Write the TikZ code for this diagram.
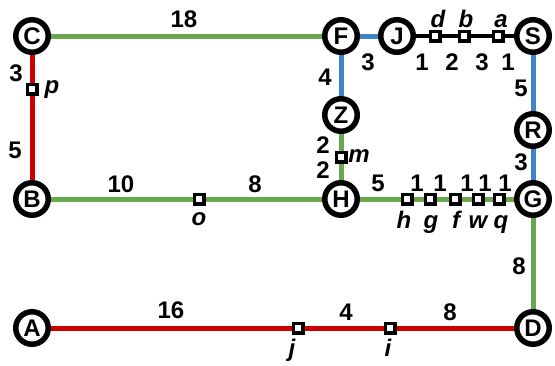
\documentclass[tikz,border=0pt]{standalone}
\usepackage{fontspec}
\setmainfont{Liberation Sans}
\usetikzlibrary{backgrounds}
\definecolor{tgreen}{HTML}{6AA84F}
\definecolor{tred}{HTML}{CC0000}
\definecolor{tblue}{HTML}{3D85C6}
\begin{document}
\begin{tikzpicture}[x=1pt,y=-1pt,
 station/.style={circle,draw=black,line width=5.5pt,fill=white,minimum size=32.5pt,inner sep=0pt,font=\fontsize{24}{24}\selectfont\bfseries},
 stopbox/.style={rectangle,draw=black,line width=3.5pt,fill=white,minimum size=9.5pt,inner sep=0pt},
 lbl/.style={inner sep=0pt,font=\fontsize{24}{24}\selectfont\bfseries},
 ilbl/.style={inner sep=0pt,anchor=base,font=\fontsize{24}{24}\selectfont\bfseries\itshape},
 track/.style={line width=5pt},
]
\useasboundingbox (0,0) rectangle (555,365);
% stations
\node[station] (C) at (32,36) {C};
\node[station] (F) at (341,36) {F};
\node[station] (J) at (397,36) {J};
\node[station] (S) at (533,36) {S};
\node[station] (Z) at (341,115) {Z};
\node[station] (R) at (533,130) {R};
\node[station] (B) at (32,199) {B};
\node[station] (H) at (341,199) {H};
\node[station] (G) at (533,199) {G};
\node[station] (A) at (32,328) {A};
\node[station] (D) at (533,328) {D};
% stops
\node[stopbox] (sp) at (32,89) {};
\node[stopbox] (so) at (199,199) {};
\node[stopbox] (sm) at (341,157) {};
\node[stopbox] (sd) at (435,36) {};
\node[stopbox] (sb) at (464,36) {};
\node[stopbox] (sa) at (498,36) {};
\node[stopbox] (sh) at (407,199) {};
\node[stopbox] (sg) at (430,199) {};
\node[stopbox] (sf) at (455,199) {};
\node[stopbox] (sw) at (478,199) {};
\node[stopbox] (sq) at (499,199) {};
\node[stopbox] (sj) at (298,328) {};
\node[stopbox] (si) at (390,328) {};
% tracks
\begin{scope}[on background layer]
\draw[track,tgreen] (C) -- (F);
\draw[track,tred] (C) -- (sp) -- (B);
\draw[track,tgreen] (B) -- (so) -- (H);
\draw[track,tblue] (F) -- (J);
\draw[track,black,line width=4.5pt] (J) -- (sd) -- (sb) -- (sa) -- (S);
\draw[track,tblue] (F) -- (Z);
\draw[track,tgreen] (Z) -- (sm) -- (H);
\draw[track,tgreen] (H) -- (sh) -- (sg) -- (sf) -- (sw) -- (sq) -- (G);
\draw[track,tblue] (S) -- (R);
\draw[track,tblue] (R) -- (G);
\draw[track,tgreen] (G) -- (D);
\draw[track,tred] (A) -- (sj) -- (si) -- (D);
\end{scope}
% weights
\node[lbl] (w1) at (184,19) {18};
\node[lbl] (w2) at (16,73) {3};
\node[lbl] (w3) at (15,150) {5};
\node[lbl] (w4) at (121,184) {10};
\node[lbl] (w5) at (255,184) {8};
\node[lbl] (w6) at (325,77) {4};
\node[lbl] (w7) at (368,62) {3};
\node[lbl] (w8) at (422,62) {1};
\node[lbl] (w9) at (452,62) {2};
\node[lbl] (w10) at (482,62) {3};
\node[lbl] (w11) at (508,62) {1};
\node[lbl] (w12) at (521,88) {5};
\node[lbl] (w13) at (521,162) {3};
\node[lbl] (w14) at (323,145) {2};
\node[lbl] (w15) at (323,170) {2};
\node[lbl] (w16) at (378,183) {5};
\node[lbl] (w17) at (417,183) {1};
\node[lbl] (w18) at (440,183) {1};
\node[lbl] (w19) at (467,183) {1};
\node[lbl] (w20) at (485,183) {1};
\node[lbl] (w21) at (505,183) {1};
\node[lbl] (w22) at (519,266) {8};
\node[lbl] (w23) at (171,310) {16};
\node[lbl] (w24) at (346,312) {4};
\node[lbl] (w25) at (450,312) {8};
% stop names
\node[ilbl] (np) at (52,93) {p};
\node[ilbl] (no) at (199,225) {o};
\node[ilbl] (nm) at (359,162) {m};
\node[ilbl] (nd) at (438,27) {d};
\node[ilbl] (nb) at (466,27) {b};
\node[ilbl] (na) at (501,27) {a};
\node[ilbl] (nh) at (404,228) {h};
\node[ilbl] (ng) at (431,228) {g};
\node[ilbl] (nf) at (456,228) {f};
\node[ilbl] (nw) at (478,228) {w};
\node[ilbl] (nq) at (501,228) {q};
\node[ilbl] (nj) at (292,356) {j};
\node[ilbl] (ni) at (388,356) {i};
\end{tikzpicture}
\end{document}
